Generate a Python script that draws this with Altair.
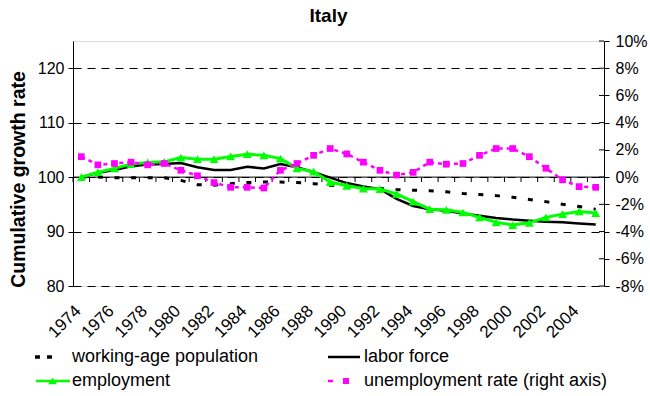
import altair as alt
import pandas as pd

# ---- data -------------------------------------------------------------
years = [str(y) for y in range(1974, 2006)]

working_age = [100.0, 100.0, 99.9, 99.9, 99.9, 99.9, 99.4, 98.6, 98.5, 98.8,
               99.0, 99.1, 99.1, 99.0, 98.8, 98.5, 98.3, 98.1, 97.9, 97.7,
               97.6, 97.5, 97.3, 97.0, 96.8, 96.6, 96.3, 95.9, 95.5, 95.0,
               94.6, 94.1]

labor_force = [100.0, 100.8, 101.3, 102.0, 102.3, 102.4, 102.6, 101.8, 101.3, 101.3,
               101.9, 101.6, 102.4, 101.8, 100.9, 99.9, 98.9, 98.3, 97.8, 96.0,
               94.7, 94.1, 93.8, 93.3, 92.9, 92.5, 92.2, 92.0, 91.8, 91.7,
               91.5, 91.3]

employment = [100.0, 100.9, 101.6, 102.4, 102.7, 102.8, 103.6, 103.3, 103.3, 103.8,
              104.2, 104.0, 103.4, 101.6, 101.0, 99.1, 98.4, 97.9, 97.8, 96.9,
              95.5, 94.1, 94.0, 93.5, 92.6, 91.7, 91.2, 91.6, 92.6, 93.2,
              93.7, 93.4]

# unemployment rate change, percent (right axis)
unemployment = [1.5, 0.9, 1.0, 1.1, 0.9, 1.0, 0.5, 0.1, -0.4, -0.75,
                -0.75, -0.8, 0.5, 1.0, 1.6, 2.1, 1.7, 1.1, 0.5, 0.15,
                0.35, 1.1, 0.95, 1.0, 1.6, 2.1, 2.1, 1.5, 0.65, -0.2,
                -0.7, -0.75]

right_ticks = list(range(-8, 11, 2))

# legend entries, listed column by column (two columns)
series_names = ["working-age population", "employment",
                "labor force", "unemployment rate (right axis)"]
series_colors = ["#000000", "#00FF00", "#000000", "#FF00FF"]
# legend glyphs (unit space, scaled by symbol size)
series_glyphs = [
    "M-1.08,-0.14H-0.67V0.14H-1.08ZM-0.08,-0.14H0.33V0.14H-0.08Z",
    "M-1,-0.11H1.83V0.11H-1ZM0,0.28L0.375,-0.28L0.75,0.28Z",
    "M-1,-0.1H1.67V0.1H-1Z",
    "M-1,-0.11H-0.58V0.11H-1ZM0.25,-0.25H0.75V0.25H0.25Z",
]

df = pd.DataFrame({
    "year": years,
    "wap": working_age,
    "lf": labor_force,
    "emp": employment,
    "unemp": unemployment,
})
legend_df = pd.DataFrame({"series": series_names})
ref_df = pd.DataFrame({"v": [100]})
tick_df = pd.DataFrame({"unemp": right_ticks})

FONT = "Liberation Sans"
W, H = 531, 245

x_scale = alt.Scale(type="band", paddingInner=0, paddingOuter=0)
x_axis = alt.Axis(values=years[::2], labelAngle=-45, labelAlign="right",
                  labelBaseline="middle", labelPadding=22, labelOffset=-3,
                  labelFontSize=17, labelFont=FONT, labelColor="black",
                  domain=False, ticks=False, grid=False, title=None)
x_enc = alt.X("year:O", scale=x_scale, axis=x_axis, bandPosition=0.5)

left_scale = alt.Scale(domain=[80, 125], nice=False, zero=False)
left_axis = alt.Axis(values=[80, 90, 100, 110, 120], grid=True,
                     gridDash=[8, 6], gridColor="black", gridWidth=1,
                     domainColor="black", tickColor="black", tickSize=5,
                     labelFontSize=16, labelFont=FONT, labelColor="black",
                     labelPadding=4, title="Cumulative growth rate",
                     titleFont=FONT, titleFontSize=19.5, titleFontWeight="bold",
                     titleColor="black", titleX=-55, titleY=138,
                     titleBaseline="middle")

base = alt.Chart(df)

wap_line = base.mark_line(color="black", strokeWidth=3, strokeDash=[5, 11.6]).encode(
    x=x_enc, y=alt.Y("wap:Q", scale=left_scale, axis=left_axis))

zero_line = alt.Chart(ref_df).mark_rule(color="black", strokeWidth=1).encode(
    y=alt.Y("v:Q"))

cat_ticks = base.mark_rule(color="black", strokeWidth=1).encode(
    x=alt.X("year:O", bandPosition=0),
    y=alt.Y(datum=100), y2=alt.Y2(datum=99.1))

lf_line = base.mark_line(color="black", strokeWidth=2.5).encode(
    x=x_enc, y="lf:Q")

emp_line = base.mark_line(
    color="#00FF00", strokeWidth=3,
    point=alt.OverlayMarkDef(shape="triangle-up", filled=True, size=80, color="#00FF00"),
).encode(x=x_enc, y="emp:Q")

legend_def = alt.Legend(title=None, orient="none", legendX=-37, legendY=304,
                        columns=2, columnPadding=69, rowPadding=3, padding=0,
                        symbolSize=576, symbolStrokeWidth=0, symbolOpacity=1,
                        labelFontSize=18, labelFont=FONT, labelColor="black",
                        labelOffset=12, labelLimit=400)

legend_layer = alt.Chart(legend_df).mark_point(filled=True, opacity=0).encode(
    fill=alt.Fill("series:N", sort=series_names,
                  scale=alt.Scale(domain=series_names, range=series_colors),
                  legend=legend_def),
    shape=alt.Shape("series:N", sort=series_names,
                    scale=alt.Scale(domain=series_names, range=series_glyphs),
                    legend=legend_def),
)

left = alt.layer(wap_line, zero_line, cat_ticks, lf_line, emp_line, legend_layer)

right_scale = alt.Scale(domain=[-8, 10], nice=False, zero=False)
right_axis = alt.Axis(orient="right", values=right_ticks,
                      labelExpr="datum.value + '%'", grid=False,
                      domainColor="black", tickColor="black", tickSize=5,
                      labelFontSize=16, labelFont=FONT, labelColor="black",
                      labelPadding=6, title=None)
right_y = alt.Y("unemp:Q", scale=right_scale, axis=right_axis)

unemp_line = base.mark_line(
    color="#FF00FF", strokeWidth=2.5, strokeDash=[4, 4],
    point=alt.OverlayMarkDef(shape="square", filled=True, size=45, color="#FF00FF"),
).encode(x=x_enc, y=right_y)

# inner half of the right axis's cross ticks
right_inner = alt.Chart(tick_df).mark_rule(color="black", strokeWidth=1).encode(
    y=right_y, x=alt.value(W - 5), x2=alt.value(W))

right = alt.layer(right_inner, unemp_line)

chart = alt.layer(left, right).resolve_scale(y="independent").properties(
    width=W, height=H,
    autosize=alt.AutoSizeParams(type="none"),
    padding={"left": 73, "top": 41, "right": 46, "bottom": 110},
    title=alt.Title("Italy", font=FONT, fontSize=19, fontWeight="bold",
                    color="black", offset=7, dx=-10),
).configure_view(stroke=None).configure(background="white")

chart.save("out.html", embed_options={"renderer": "svg", "actions": False})
